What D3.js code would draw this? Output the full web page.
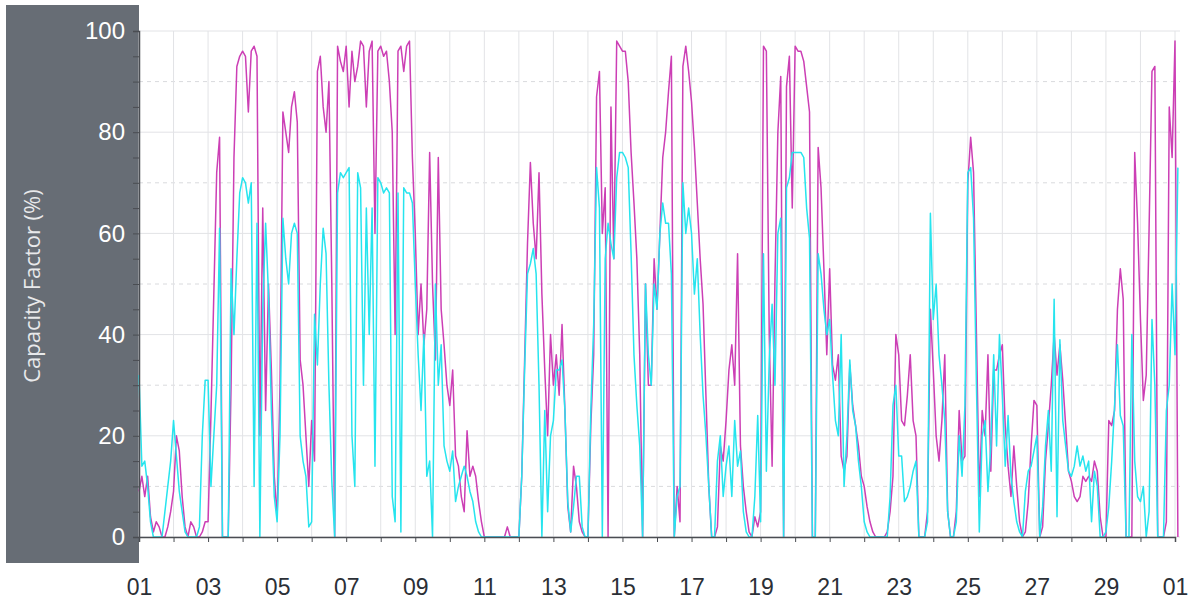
<!DOCTYPE html>
<html>
<head>
<meta charset="utf-8">
<script src="https://d3js.org/d3.v7.min.js"></script>
<style>
body { margin: 0; background: #fff; }
svg { font-family: "Open Sans", "Noto Sans", sans-serif; }
.grid line { stroke: #e2e3e6; stroke-width: 1; }
.grid .minor { stroke: #d9dadd; stroke-dasharray: 4,4; }
.series { fill: none; stroke-width: 1.5px; stroke-linejoin: round; }
</style>
</head>
<body>
<svg width="1192" height="604"></svg>
<script>
// two-hour samples, 12 per day, starting 1st of the month 00:00
const startDate = Date.UTC(2023, 5, 1)
const stepHours = 2

const seriesA = [ // magenta
  9, 12, 8, 12, 4, 1, 3, 2, 0, 0, 2, 5,
  9, 20, 17, 8, 2, 0, 3, 2, 0, 0, 1, 3,
  3, 24, 48, 72, 79, 0, 0, 0, 30, 75, 93, 95,
  96, 95, 84, 96, 97, 95, 20, 65, 25, 50, 33, 12,
  4, 30, 84, 80, 76, 85, 88, 82, 35, 30, 20, 10,
  23, 15, 92, 95, 85, 80, 90, 50, 0, 97, 94, 92,
  97, 85, 96, 90, 93, 98, 97, 85, 96, 98, 60, 96,
  97, 95, 96, 90, 80, 40, 96, 97, 92, 97, 98, 75,
  60, 40, 50, 38, 45, 76, 50, 35, 75, 45, 38, 30,
  26, 33, 16, 14, 8, 5, 21, 12, 14, 12, 7, 3,
  0, 0, 0, 0, 0, 0, 0, 0, 2, 0, 0, 0,
  0, 12, 35, 58, 74, 62, 55, 72, 48, 33, 20, 40,
  30, 36, 28, 42, 25, 6, 1, 14, 10, 3, 1, 0,
  0, 22, 36, 87, 92, 60, 69, 0, 85, 55, 98, 97,
  96, 96, 90, 76, 66, 55, 36, 0, 50, 30, 30, 55,
  45, 60, 75, 80, 88, 95, 0, 10, 3, 93, 97, 92,
  86, 77, 66, 55, 46, 28, 10, 0, 0, 2, 18, 15,
  23, 33, 38, 30, 56, 18, 10, 5, 1, 0, 4, 2,
  5, 97, 96, 40, 14, 51, 80, 91, 0, 89, 95, 65,
  97, 96, 96, 94, 89, 84, 0, 0, 77, 69, 53, 36,
  53, 34, 31, 36, 16, 13, 16, 34, 26, 22, 18, 12,
  10, 6, 3, 1, 0, 0, 0, 0, 1, 5, 12, 40,
  36, 23, 22, 28, 36, 23, 20, 0, 0, 0, 5, 45,
  33, 20, 15, 23, 36, 5, 0, 0, 5, 25, 15, 16,
  70, 79, 72, 40, 8, 25, 20, 36, 13, 33, 33, 36,
  38, 22, 14, 8, 18, 10, 3, 0, 1, 7, 18, 27,
  26, 0, 2, 15, 22, 30, 40, 32, 38, 31, 22, 13,
  11, 8, 7, 8, 12, 11, 12, 11, 15, 13, 4, 0,
  0, 23, 22, 25, 45, 53, 47, 0, 0, 0, 76, 62,
  43, 27, 32, 61, 92, 93, 0, 0, 0, 3, 85, 75,
  98, 0
]

const seriesB = [ // cyan
  32, 14, 15, 10, 3, 0, 0, 0, 0, 5, 10, 15,
  23, 16, 9, 5, 1, 0, 0, 0, 0, 2, 20, 31,
  31, 10, 20, 30, 61, 0, 0, 0, 53, 40, 55, 68,
  71, 70, 66, 70, 10, 62, 0, 45, 62, 48, 25, 8,
  3, 20, 63, 55, 50, 60, 62, 60, 20, 15, 12, 2,
  3, 44, 34, 50, 61, 56, 30, 11, 0, 68, 72, 71,
  72, 73, 20, 10, 72, 69, 30, 65, 40, 65, 14, 71,
  70, 68, 69, 68, 8, 3, 68, 1, 69, 68, 68, 66,
  50, 36, 25, 40, 12, 15, 0, 50, 30, 38, 18, 15,
  13, 17, 7, 10, 12, 14, 12, 9, 7, 3, 1, 0,
  0, 0, 0, 0, 0, 0, 0, 0, 0, 0, 0, 0,
  0, 12, 33, 52, 54, 57, 52, 30, 0, 25, 5, 20,
  23, 33, 33, 35, 25, 7, 1, 6, 12, 12, 2, 0,
  0, 25, 42, 73, 65, 0, 55, 62, 58, 55, 71, 76,
  76, 75, 73, 56, 36, 26, 18, 0, 50, 36, 30, 50,
  45, 60, 66, 62, 62, 52, 0, 8, 10, 70, 60, 65,
  60, 48, 55, 40, 28, 20, 10, 0, 0, 15, 20, 8,
  14, 18, 8, 23, 14, 17, 5, 1, 0, 0, 8, 24,
  3, 56, 13, 35, 46, 30, 60, 63, 0, 69, 71, 76,
  76, 76, 76, 75, 65, 59, 0, 0, 56, 52, 45, 40,
  43, 32, 23, 20, 40, 10, 20, 35, 25, 22, 15, 10,
  3, 1, 0, 0, 0, 0, 0, 0, 0, 8, 26, 30,
  16, 16, 7, 8, 10, 13, 15, 0, 0, 0, 3, 64,
  43, 50, 36, 30, 23, 5, 0, 0, 3, 20, 12, 26,
  72, 73, 63, 30, 1, 20, 23, 9, 18, 36, 18, 40,
  28, 14, 24, 12, 7, 3, 1, 0, 9, 13, 14, 17,
  20, 0, 6, 18, 25, 13, 47, 4, 39, 23, 18, 13,
  12, 14, 18, 14, 16, 13, 15, 3, 13, 10, 0, 0,
  1, 6, 15, 26, 38, 24, 22, 0, 0, 40, 15, 8,
  7, 10, 0, 5, 43, 30, 0, 0, 0, 25, 30, 50,
  36, 73
]

const yLabelTicks = [0, 20, 40, 60, 80, 100]
const yTitle = "Capacity Factor (%)"

const svg = d3.select("svg")
const plotLeft = 139, plotRight = 1175, plotTop = 31, plotBottom = 537

const x = d3.scaleUtc()
    .domain([new Date(startDate), d3.utcMonth.offset(new Date(startDate), 1)])
    .range([plotLeft, plotRight])
const y = d3.scaleLinear().domain([0, 100]).range([plotBottom, plotTop])

function toPoints(arr) {
    return arr.map((v, i) => ({ t: new Date(startDate + i * stepHours * 3600e3), v: v }))
}

// dark panel behind the y axis
svg.append("rect")
    .attr("x", 6).attr("y", 5)
    .attr("width", plotLeft - 6).attr("height", 558)
    .attr("fill", "#676d75")

// grid
let grid = svg.append("g").attr("class", "grid")
grid.selectAll(".major").data(yLabelTicks).join("line")
    .attr("class", "major")
    .attr("x1", plotLeft).attr("x2", 1180)
    .attr("y1", d => y(d)).attr("y2", d => y(d))
grid.selectAll(".minor").data(yLabelTicks.slice(1).map(d => d - 10)).join("line")
    .attr("class", "minor")
    .attr("x1", plotLeft).attr("x2", 1180)
    .attr("y1", d => y(d)).attr("y2", d => y(d))
grid.selectAll(".vert").data(x.ticks(d3.utcDay.every(1))).join("line")
    .attr("class", "vert")
    .attr("x1", d => x(d)).attr("x2", d => x(d))
    .attr("y1", plotTop).attr("y2", plotBottom)

// series
let line = d3.line().x(d => x(d.t)).y(d => y(d.v))
svg.append("path").datum(toPoints(seriesA))
    .attr("class", "series").attr("stroke", "#cc3fb5").attr("d", line)
svg.append("path").datum(toPoints(seriesB))
    .attr("class", "series").attr("stroke", "#26e4ee").attr("d", line)

// y axis
let yAxis = svg.append("g")
    .attr("transform", "translate(" + plotLeft + ",0)")
    .call(d3.axisLeft(y)
        .tickValues(d3.range(0, 101, 5))
        .tickSize(6)
        .tickPadding(8)
        .tickFormat(d => yLabelTicks.includes(d) ? d : ""))
yAxis.select(".domain").attr("stroke", "#4a4d52").attr("stroke-width", 1.5)
yAxis.selectAll(".tick line").attr("stroke", "#4a4d52")
yAxis.selectAll("text").attr("fill", "#ffffff").attr("font-size", "24px")

// x axis
let xAxis = svg.append("g")
    .attr("transform", "translate(0," + plotBottom + ")")
    .call(d3.axisBottom(x)
        .ticks(d3.utcDay.every(1))
        .tickSize(5)
        .tickPadding(37)
        .tickFormat(d => d.getUTCDate() % 2 === 1 ? d3.utcFormat("%d")(d) : ""))
xAxis.select(".domain").attr("stroke", "#4a4d52").attr("stroke-width", 1.5)
xAxis.selectAll(".tick line").attr("stroke", "#4a4d52")
xAxis.selectAll("text").attr("fill", "#2b2f36").attr("font-size", "23px")

// axis title
svg.append("text")
    .attr("transform", "translate(40,286) rotate(-90)")
    .attr("text-anchor", "middle")
    .attr("fill", "#e8e9eb")
    .attr("font-size", "22px")
    .text(yTitle)
</script>
</body>
</html>
